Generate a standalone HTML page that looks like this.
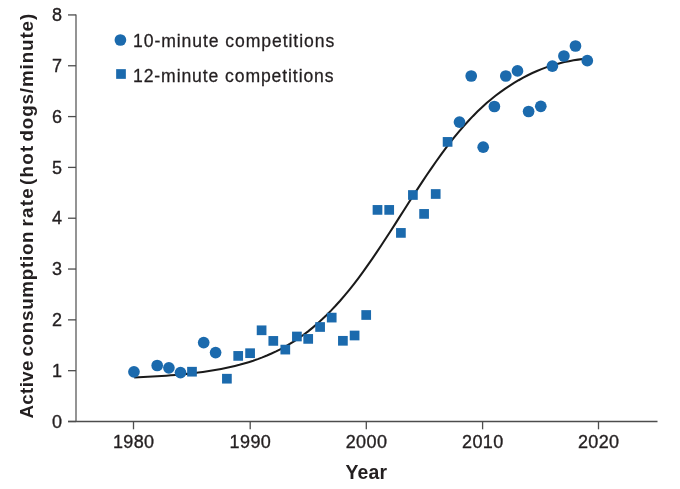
<!DOCTYPE html>
<html><head><meta charset="utf-8"><style>
html,body{margin:0;padding:0;background:#fff;width:680px;height:489px;overflow:hidden}
svg{display:block;will-change:transform}
text{font-family:"Liberation Sans",sans-serif;fill:#231f20}
.t{font-size:18px;stroke:#231f20;stroke-width:0.35px}
.lg{font-size:17.6px;stroke:#231f20;stroke-width:0.28px}
.b,.b text{font-weight:bold;stroke:none}
</style></head><body>
<svg width="680" height="489" viewBox="0 0 680 489">
<line x1="68" y1="421.5" x2="657.5" y2="421.5" stroke="#4d4d4d" stroke-width="1.3"/>
<line x1="76" y1="14.4" x2="76" y2="421.5" stroke="#5a5a5a" stroke-width="1.3"/>
<line x1="68" y1="421.50" x2="76" y2="421.50" stroke="#4d4d4d" stroke-width="1.3"/>
<text x="62" y="427.70" text-anchor="end" class="t">0</text>
<line x1="68" y1="370.68" x2="76" y2="370.68" stroke="#4d4d4d" stroke-width="1.3"/>
<text x="62" y="376.88" text-anchor="end" class="t">1</text>
<line x1="68" y1="319.86" x2="76" y2="319.86" stroke="#4d4d4d" stroke-width="1.3"/>
<text x="62" y="326.06" text-anchor="end" class="t">2</text>
<line x1="68" y1="269.04" x2="76" y2="269.04" stroke="#4d4d4d" stroke-width="1.3"/>
<text x="62" y="275.24" text-anchor="end" class="t">3</text>
<line x1="68" y1="218.22" x2="76" y2="218.22" stroke="#4d4d4d" stroke-width="1.3"/>
<text x="62" y="224.42" text-anchor="end" class="t">4</text>
<line x1="68" y1="167.40" x2="76" y2="167.40" stroke="#4d4d4d" stroke-width="1.3"/>
<text x="62" y="173.60" text-anchor="end" class="t">5</text>
<line x1="68" y1="116.58" x2="76" y2="116.58" stroke="#4d4d4d" stroke-width="1.3"/>
<text x="62" y="122.78" text-anchor="end" class="t">6</text>
<line x1="68" y1="65.76" x2="76" y2="65.76" stroke="#4d4d4d" stroke-width="1.3"/>
<text x="62" y="71.96" text-anchor="end" class="t">7</text>
<line x1="68" y1="14.94" x2="76" y2="14.94" stroke="#4d4d4d" stroke-width="1.3"/>
<text x="62" y="21.14" text-anchor="end" class="t">8</text>
<line x1="133.50" y1="421.5" x2="133.50" y2="429.3" stroke="#4d4d4d" stroke-width="1.3"/>
<text x="112.90" y="448" class="t" textLength="41.2" lengthAdjust="spacing">1980</text>
<line x1="250.20" y1="421.5" x2="250.20" y2="429.3" stroke="#4d4d4d" stroke-width="1.3"/>
<text x="229.60" y="448" class="t" textLength="41.2" lengthAdjust="spacing">1990</text>
<line x1="366.30" y1="421.5" x2="366.30" y2="429.3" stroke="#4d4d4d" stroke-width="1.3"/>
<text x="345.70" y="448" class="t" textLength="41.2" lengthAdjust="spacing">2000</text>
<line x1="482.60" y1="421.5" x2="482.60" y2="429.3" stroke="#4d4d4d" stroke-width="1.3"/>
<text x="462.00" y="448" class="t" textLength="41.2" lengthAdjust="spacing">2010</text>
<line x1="598.50" y1="421.5" x2="598.50" y2="429.3" stroke="#4d4d4d" stroke-width="1.3"/>
<text x="577.90" y="448" class="t" textLength="41.2" lengthAdjust="spacing">2020</text>
<path d="M134.20,377.40 L138.78,377.21 L143.35,377.01 L147.93,376.79 L152.51,376.55 L157.08,376.28 L161.66,376.00 L166.24,375.69 L170.81,375.35 L175.39,374.98 L179.97,374.58 L184.54,374.14 L189.12,373.66 L193.70,373.15 L198.27,372.59 L202.85,371.98 L207.43,371.32 L212.01,370.60 L216.58,369.82 L221.16,368.97 L225.74,368.05 L230.31,367.05 L234.89,365.97 L239.47,364.81 L244.04,363.54 L248.62,362.17 L253.20,360.70 L257.77,359.10 L262.35,357.38 L266.93,355.52 L271.50,353.52 L276.08,351.37 L280.66,349.06 L285.23,346.58 L289.81,343.92 L294.39,341.08 L298.96,338.03 L303.54,334.79 L308.12,331.33 L312.69,327.65 L317.27,323.75 L321.85,319.61 L326.42,315.24 L331.00,310.63 L335.58,305.78 L340.15,300.70 L344.73,295.37 L349.31,289.81 L353.88,284.03 L358.46,278.03 L363.04,271.83 L367.62,265.43 L372.19,258.86 L376.77,252.13 L381.35,245.27 L385.92,238.29 L390.50,231.22 L395.08,224.08 L399.65,216.90 L404.23,209.72 L408.81,202.54 L413.38,195.41 L417.96,188.34 L422.54,181.37 L427.11,174.51 L431.69,167.80 L436.27,161.24 L440.84,154.85 L445.42,148.66 L450.00,142.68 L454.57,136.91 L459.15,131.37 L463.73,126.06 L468.30,120.99 L472.88,116.16 L477.46,111.57 L482.03,107.21 L486.61,103.09 L491.19,99.20 L495.76,95.54 L500.34,92.10 L504.92,88.86 L509.49,85.82 L514.07,82.95 L518.65,80.24 L523.23,77.68 L527.80,75.28 L532.38,73.04 L536.96,70.98 L541.53,69.11 L546.11,67.40 L550.69,65.85 L555.26,64.46 L559.84,63.21 L564.42,62.11 L568.99,61.15 L573.57,60.33 L578.15,59.64 L582.72,59.08 L587.30,58.65" fill="none" stroke="#1a1a1a" stroke-width="2.05"/>
<circle cx="133.95" cy="371.8" r="5.85" fill="#1b6aad"/>
<circle cx="157.2" cy="365.5" r="5.85" fill="#1b6aad"/>
<circle cx="168.9" cy="367.8" r="5.85" fill="#1b6aad"/>
<circle cx="180.5" cy="372.6" r="5.85" fill="#1b6aad"/>
<circle cx="203.7" cy="342.6" r="5.85" fill="#1b6aad"/>
<circle cx="215.6" cy="352.6" r="5.85" fill="#1b6aad"/>
<circle cx="459.5" cy="122.1" r="5.85" fill="#1b6aad"/>
<circle cx="471.2" cy="76.0" r="5.85" fill="#1b6aad"/>
<circle cx="483.2" cy="147.2" r="5.85" fill="#1b6aad"/>
<circle cx="494.4" cy="106.5" r="5.85" fill="#1b6aad"/>
<circle cx="505.8" cy="76.0" r="5.85" fill="#1b6aad"/>
<circle cx="517.5" cy="70.9" r="5.85" fill="#1b6aad"/>
<circle cx="528.6" cy="111.5" r="5.85" fill="#1b6aad"/>
<circle cx="540.8" cy="106.3" r="5.85" fill="#1b6aad"/>
<circle cx="552.4" cy="66.1" r="5.85" fill="#1b6aad"/>
<circle cx="563.9" cy="56.0" r="5.85" fill="#1b6aad"/>
<circle cx="575.5" cy="46.0" r="5.85" fill="#1b6aad"/>
<circle cx="587.3" cy="60.7" r="5.85" fill="#1b6aad"/>
<rect x="187.15" y="366.85" width="9.7" height="9.7" fill="#1b6aad"/>
<rect x="222.05" y="373.85" width="9.7" height="9.7" fill="#1b6aad"/>
<rect x="233.35" y="351.05" width="9.7" height="9.7" fill="#1b6aad"/>
<rect x="245.25" y="348.35" width="9.7" height="9.7" fill="#1b6aad"/>
<rect x="256.75" y="325.45" width="9.7" height="9.7" fill="#1b6aad"/>
<rect x="268.45" y="336.05" width="9.7" height="9.7" fill="#1b6aad"/>
<rect x="280.45" y="344.75" width="9.7" height="9.7" fill="#1b6aad"/>
<rect x="292.05" y="331.65" width="9.7" height="9.7" fill="#1b6aad"/>
<rect x="303.35" y="334.05" width="9.7" height="9.7" fill="#1b6aad"/>
<rect x="315.25" y="322.15" width="9.7" height="9.7" fill="#1b6aad"/>
<rect x="326.85" y="312.75" width="9.7" height="9.7" fill="#1b6aad"/>
<rect x="338.05" y="335.95" width="9.7" height="9.7" fill="#1b6aad"/>
<rect x="349.75" y="330.65" width="9.7" height="9.7" fill="#1b6aad"/>
<rect x="361.35" y="310.15" width="9.7" height="9.7" fill="#1b6aad"/>
<rect x="372.65" y="205.05" width="9.7" height="9.7" fill="#1b6aad"/>
<rect x="384.35" y="205.05" width="9.7" height="9.7" fill="#1b6aad"/>
<rect x="396.05" y="228.05" width="9.7" height="9.7" fill="#1b6aad"/>
<rect x="408.05" y="190.15" width="9.7" height="9.7" fill="#1b6aad"/>
<rect x="419.25" y="209.05" width="9.7" height="9.7" fill="#1b6aad"/>
<rect x="430.85" y="189.15" width="9.7" height="9.7" fill="#1b6aad"/>
<rect x="442.75" y="137.05" width="9.7" height="9.7" fill="#1b6aad"/>
<circle cx="120.4" cy="40" r="5.85" fill="#1b6aad"/>
<rect x="116.15" y="69.15" width="9.7" height="9.7" fill="#1b6aad"/>
<text x="133.0" y="46.9" class="lg" textLength="201.2" lengthAdjust="spacing">10-minute competitions</text>
<text x="133.0" y="81.9" class="lg" textLength="200.6" lengthAdjust="spacing">12-minute competitions</text>
<text x="345.6" y="479.4" class="b" font-size="19.4" textLength="41.4" lengthAdjust="spacing">Year</text>
<g transform="translate(33.0,0) rotate(-90)" class="b" font-size="18.8"><text x="-418.6" y="0" textLength="58.0" lengthAdjust="spacing">Active</text><text x="-356.6" y="0" textLength="125.2" lengthAdjust="spacing">consumption</text><text x="-226.6" y="0" textLength="38.3" lengthAdjust="spacing">rate</text><text x="-185.0" y="0" textLength="39.2" lengthAdjust="spacing">(hot</text><text x="-141.6" y="0" textLength="127.8" lengthAdjust="spacing">dogs/minute)</text></g>
</svg>
</body></html>
